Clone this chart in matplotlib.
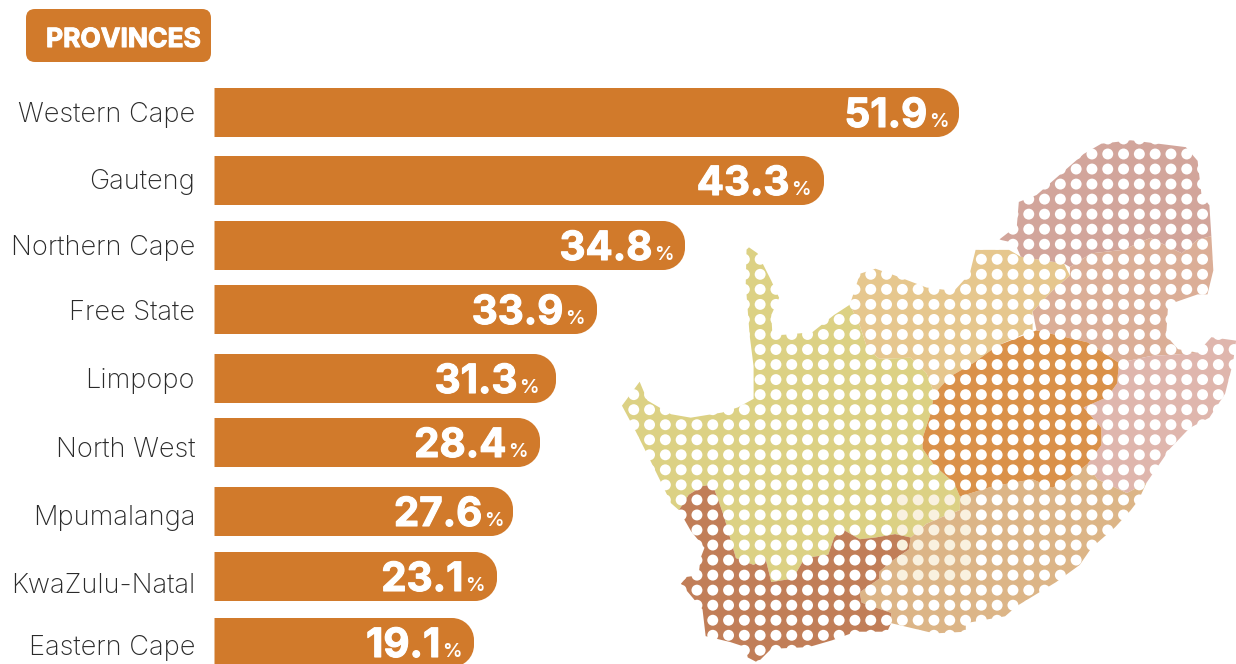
import matplotlib
matplotlib.use("Agg")
import matplotlib.pyplot as plt
import matplotlib.patheffects as pe
import numpy as np
from matplotlib.patches import FancyBboxPatch, PathPatch, Polygon
from matplotlib.path import Path

provinces = ["Western Cape", "Gauteng", "Northern Cape", "Free State", "Limpopo",
             "North West", "Mpumalanga", "KwaZulu-Natal", "Eastern Cape"]
values = [51.9, 43.3, 34.8, 33.9, 31.3, 28.4, 27.6, 23.1, 19.1]
# the bars in the picture are not to scale with the labels, so lengths are read separately
bar_lengths = [744.5, 609.5, 470.5, 382.5, 341.5, 325.5, 298.5, 282.5, 259.5]
bar_tops = [88, 156, 221, 285, 354, 418, 487, 552, 618]
label_baselines = [122, 189, 255, 320, 388, 457, 525, 593, 655]
percent_right = [948, 810, 673, 584, 538, 527, 503, 484, 461]

# map outlines
northern_cape = [(325,340),(350,360),(385,440),(405,490),(385,540),(388,600),(430,597),(490,590),(545,540),(585,510),
                 (610,570),(630,640),(660,668),(740,665),(780,710),(800,770),(790,830),(770,900),(770,930),(800,980),
                 (850,1030),(865,1070),(865,1110),(820,1130),(780,1150),(740,1190),(700,1180),(650,1190),(610,1195),
                 (565,1165),(545,1190),(530,1240),(470,1250),(440,1310),(385,1320),(370,1250),(340,1270),(295,1250),
                 (285,1210),(265,1130),(250,1080),(235,1035),(210,1040),(175,1065),(150,1110),(130,1090),(105,1030),
                 (75,960),(40,880),(5,805),(50,735),(70,790),(130,830),(180,840),(260,825),(300,810),(340,785),
                 (340,690),(330,600),(320,450),(322,350)]
western_cape = [(235,1035),(250,1080),(265,1130),(285,1210),(295,1250),(340,1270),(370,1250),(385,1320),(440,1310),
                (470,1250),(530,1240),(545,1190),(565,1165),(610,1195),(650,1190),(700,1180),(740,1190),(735,1225),
                (690,1260),(660,1290),(660,1310),(610,1350),(615,1380),(690,1410),(690,1440),(680,1465),(600,1465),
                (540,1490),(480,1510),(385,1515),(350,1555),(325,1540),(320,1510),(280,1495),(218,1478),(210,1400),
                (155,1325),(170,1305),(200,1300),(205,1250),(215,1220),(180,1170),(150,1110),(175,1065),(210,1040)]
eastern_cape = [(865,1070),(880,1065),(950,1040),(1050,1020),(1100,1045),(1140,1020),(1190,975),(1215,1020),(1290,1060),
                (1340,1030),(1320,1080),(1300,1110),(1260,1160),(1200,1220),(1170,1270),(1110,1320),(1010,1390),
                (980,1420),(880,1440),(880,1465),(800,1470),(690,1440),(690,1410),(615,1380),(610,1350),(660,1310),
                (660,1290),(690,1260),(735,1225),(740,1190),(780,1150),(820,1130),(865,1110)]
free_state = [(800,770),(840,720),(900,680),(960,630),(1060,585),(1190,620),(1270,680),(1265,740),(1240,780),(1180,810),
              (1225,870),(1225,920),(1190,975),(1140,1020),(1100,1045),(1050,1020),(950,1040),(880,1065),(865,1070),
              (850,1030),(800,980),(770,930),(770,900),(790,830)]
kwazulu_natal = [(1270,680),(1350,660),(1420,655),(1470,650),(1505,605),(1568,615),(1560,680),(1540,770),(1500,840),
                 (1450,870),(1400,930),(1340,1030),(1290,1060),(1215,1020),(1190,975),(1225,920),(1225,870),(1180,810),
                 (1240,780),(1265,740)]
north_west = [(610,420),(650,405),(700,425),(780,460),(850,470),(890,420),(905,350),(990,350),(1020,370),(1130,390),
              (1145,425),(1100,470),(1050,530),(1050,585),(960,630),(900,680),(840,720),(800,770),(780,710),(740,665),
              (660,668),(630,640),(610,570),(585,510),(605,440)]
limpopo = [(1225,40),(1300,30),(1440,50),(1470,90),(1480,190),(1500,220),(1505,310),(1470,320),(1430,360),(1350,315),
           (1280,350),(1200,360),(1145,400),(1130,390),(1020,370),(1005,330),(965,320),(1010,280),(1015,210),(1060,190),
           (1110,140),(1180,70)]
mpumalanga = [(1145,400),(1200,360),(1280,350),(1350,315),(1430,360),(1470,320),(1505,310),(1510,410),(1495,480),
              (1470,480),(1395,510),(1390,600),(1420,640),(1470,650),(1420,655),(1350,660),(1270,680),(1190,620),
              (1060,585),(1050,530),(1100,470),(1145,425)]

orange = "#d17a2b"
font = "Inter"


def rounded_bar(x0, y0, length, height, r):
    """Bar with a square left end and a rounded right end."""
    x1 = x0 + length
    y1 = y0 + height
    k = 0.55 * r
    verts = [(x0, y0), (x1 - r, y0),
             (x1 - r + k, y0), (x1, y0 + r - k), (x1, y0 + r),
             (x1, y1 - r),
             (x1, y1 - r + k), (x1 - r + k, y1), (x1 - r, y1),
             (x0, y1), (x0, y0)]
    codes = [Path.MOVETO, Path.LINETO,
             Path.CURVE4, Path.CURVE4, Path.CURVE4,
             Path.LINETO,
             Path.CURVE4, Path.CURVE4, Path.CURVE4,
             Path.LINETO, Path.CLOSEPOLY]
    return Path(verts, codes)


def map_xy(outline):
    # outlines were traced on a crop of (620, 130) shown 2.545 x 2.92 times larger
    pts = np.array(outline, dtype=float)
    return np.column_stack([pts[:, 0] / 2.545 + 620, pts[:, 1] / 2.92 + 130])


fig = plt.figure(figsize=(12.36, 6.64), dpi=100)
ax = fig.add_axes([0, 0, 1, 1])
ax.set_xlim(0, 1236)
ax.set_ylim(664, 0)
ax.axis("off")

heavy = [pe.withStroke(linewidth=0.8, foreground="white")]

#Header pill
ax.add_patch(FancyBboxPatch((26, 9), 185, 53, boxstyle="round,pad=0,rounding_size=9",
                            fc=orange, ec="none"))
ax.text(46, 47, "PROVINCES", color="white", fontsize=19, fontweight="bold",
        family=font, va="baseline", ha="left", path_effects=heavy)

#Map
ax.add_patch(Polygon(map_xy(northern_cape), fc="#dcd184", ec="none"))
ax.add_patch(Polygon(map_xy(north_west), fc="#e6c78e", ec="none"))
ax.add_patch(Polygon(map_xy(limpopo), fc="#d2a59b", ec="none"))
ax.add_patch(Polygon(map_xy(mpumalanga), fc="#dbae97", ec="none"))
ax.add_patch(Polygon(map_xy(kwazulu_natal), fc="#dfb6ad", ec="none"))
ax.add_patch(Polygon(map_xy(eastern_cape), fc="#dcb587", ec="none"))
ax.add_patch(Polygon(map_xy(western_cape), fc="#c17e58", ec="none"))
ax.add_patch(Polygon(map_xy(free_state), fc="#da9149", ec="none"))

#Dot screen over the whole map
col_x = 633.75 + 15.8 * np.arange(0, 39)
row_y = 154 + 15.04 * np.arange(-1, 35)
gx, gy = np.meshgrid(col_x, row_y)
gx = gx.ravel()
gy = gy.ravel()
dot_colors = np.array(["white"] * gx.size, dtype=object)
# part of the map has faded dots in the picture
faded = (gx > 895) & (gx < 970) & (gy > 490) & (gy < 585)
dot_colors[faded] = "#f9f1df"
ax.scatter(gx, gy, s=62, c=list(dot_colors), linewidths=0, zorder=3)

#Bars and labels, on top of the dots so the screen stays on the map
for name, val, length, top, base, pct in zip(provinces, values, bar_lengths, bar_tops,
                                             label_baselines, percent_right):
    ax.add_patch(PathPatch(rounded_bar(214.5, top, length, 49, 22), fc=orange, ec="none", zorder=4))
    ax.text(195, base, name, color="#2a2a2a", fontsize=19.6, fontweight="light",
            family=font, ha="right", va="baseline", zorder=5)
    ax.text(pct - 20.5, top + 39, f"{val}", color="white", fontsize=29, fontweight="bold",
            family=font, ha="right", va="baseline", zorder=5, path_effects=heavy)
    ax.text(pct + 0.5, top + 39, "%", color="white", fontsize=14, fontweight="semibold",
            family=font, ha="right", va="baseline", zorder=5)

plt.savefig("out.png", dpi=100)
